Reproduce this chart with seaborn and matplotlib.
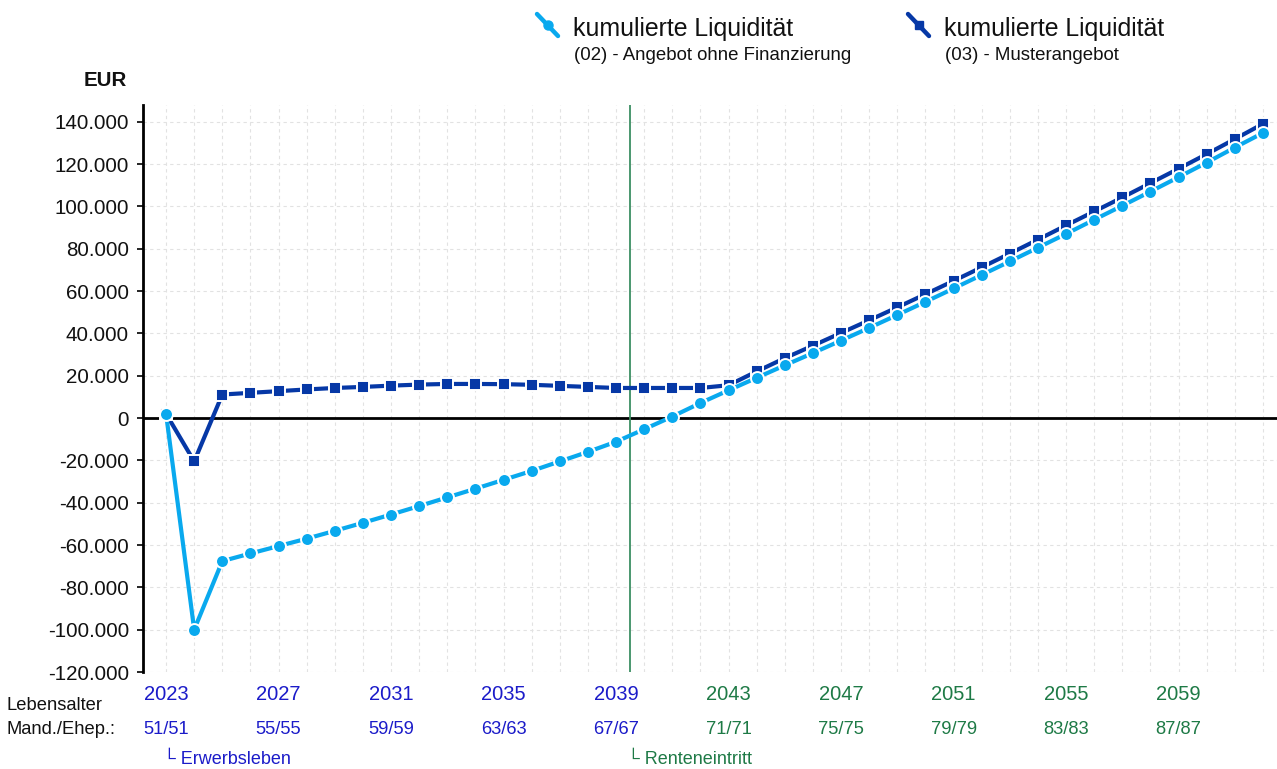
import matplotlib
matplotlib.use("Agg")
import matplotlib.pyplot as plt
import matplotlib.transforms as mtransforms
from matplotlib.lines import Line2D
import seaborn as sns
import pandas as pd

# ---------------- data ----------------
years = list(range(2023, 2063))
liq_02 = [2000, -100000, -67600, -64000, -60500, -57000, -53300, -49500, -45600, -41600,
          -37500, -33400, -29200, -25000, -20500, -16000, -11200, -5300, 700, 7100,
          13100, 19000, 24900, 30700, 36600, 42600, 48700, 54900, 61200, 67600,
          74000, 80500, 87000, 93700, 100300, 107000, 113800, 120700, 127800, 134700]
liq_03 = [2000, -20500, 11100, 11900, 12700, 13500, 14200, 14700, 15300, 15800,
          16100, 16100, 16000, 15700, 15200, 14700, 14200, 14200, 14200, 14200,
          15500, 22000, 28300, 34200, 40200, 46200, 52300, 58500, 64800, 71200,
          77700, 84300, 91000, 97600, 104200, 111000, 117800, 124700, 131800, 139000]
tick_years = [2023, 2027, 2031, 2035, 2039, 2043, 2047, 2051, 2055, 2059]
tick_ages = ["51/51", "55/55", "59/59", "63/63", "67/67", "71/71", "75/75", "79/79", "83/83", "87/87"]
y_ticks = [-120000, -100000, -80000, -60000, -40000, -20000, 0, 20000, 40000, 60000,
           80000, 100000, 120000, 140000]
retirement_x = 2039.5
series_title = "kumulierte Liquidität"
series_02 = "(02) - Angebot ohne Finanzierung"
series_03 = "(03) - Musterangebot"

df = pd.DataFrame({"Jahr": years, "L02": liq_02, "L03": liq_03})

LIGHT = "#09A9EE"
DARK = "#0638A6"
BLUE_TXT = "#1B1BC9"
GREEN_TXT = "#1E7A46"
GREEN_LINE = "#3C8F63"

sns.set_theme(style="white")
plt.rcParams["font.family"] = ["Liberation Sans", "DejaVu Sans"]

W, H = 1277, 769
fig = plt.figure(figsize=(W / 100, H / 100), dpi=100)
ax = fig.add_axes([143 / W, 1 - 672 / H, 1 - 143 / W, (672 - 105) / H])

# grid
ax.set_xticks(years, minor=True)
ax.set_yticks(y_ticks)
ax.grid(True, which="both", color="#e2e2e2", linestyle=(0, (3, 3)), linewidth=0.8)
ax.set_axisbelow(True)

ax.axhline(0, color="black", lw=2, zorder=2)
ax.axvline(retirement_x, color=GREEN_LINE, lw=1.3, zorder=2)

sns.lineplot(data=df, x="Jahr", y="L03", ax=ax, color=DARK, lw=3.0, marker="s",
             markersize=8.2, markeredgecolor="white", markeredgewidth=1.4, zorder=3)
sns.lineplot(data=df, x="Jahr", y="L02", ax=ax, color=LIGHT, lw=3.0, marker="o",
             markersize=9.3, markeredgecolor="white", markeredgewidth=1.4, zorder=4)

ax.set_xlim(2022.18, 2062.5)
ax.set_ylim(-120000, 147900)
ax.set_xlabel("")
ax.set_ylabel("")

ax.set_yticklabels([f"{v:,}".replace(",", ".") for v in y_ticks], fontsize=14.8, color="#111111")
ax.tick_params(axis="y", which="major", left=True, length=4, width=1.2, color="black", pad=6)
ax.set_xticks(tick_years)
ax.set_xticklabels([str(y) for y in tick_years], fontsize=14.5)
ax.tick_params(axis="x", which="both", bottom=False, length=0, pad=9)
for lab, yv in zip(ax.get_xticklabels(), tick_years):
    lab.set_color(BLUE_TXT if yv < retirement_x else GREEN_TXT)

for sp in ["top", "right", "bottom"]:
    ax.spines[sp].set_visible(False)
ax.spines["left"].set_color("black")
ax.spines["left"].set_linewidth(2)

# age row
trans = mtransforms.blended_transform_factory(ax.transData, ax.transAxes)
age_y = (672 - 729) / (672 - 105)
for yv, a in zip(tick_years, tick_ages):
    ax.text(yv, age_y, a, transform=trans, ha="center", va="center", fontsize=13.2,
            color=BLUE_TXT if yv < retirement_x else GREEN_TXT)

mark_y = (672 - 759) / (672 - 105)
ax.text(tick_years[0] - 0.1, mark_y, "└ Erwerbsleben", transform=trans, ha="left", va="center",
        fontsize=13, color=BLUE_TXT, family=["Liberation Sans", "DejaVu Sans"])
ax.text(retirement_x - 0.1, mark_y, "└ Renteneintritt", transform=trans, ha="left", va="center",
        fontsize=13, color=GREEN_TXT, family=["Liberation Sans", "DejaVu Sans"])

fig.text(7 / W, 1 - 706 / H, "Lebensalter", ha="left", va="center", fontsize=13.2, color="#111111")
fig.text(7 / W, 1 - 729 / H, "Mand./Ehep.:", ha="left", va="center", fontsize=13.2, color="#111111")
fig.text(127 / W, 1 - 80 / H, "EUR", ha="right", va="center", fontsize=14.8, fontweight="bold",
         color="#111111")

# legend
def legend_entry(x0, color, marker, ms, sub):
    fig.add_artist(Line2D([x0 / W, (x0 + 21) / W], [1 - 14 / H, 1 - 36 / H],
                          transform=fig.transFigure, color=color, lw=3.2))
    fig.add_artist(Line2D([(x0 + 10.5) / W], [1 - 25 / H], transform=fig.transFigure,
                          color=color, marker=marker, markersize=ms, lw=0))
    fig.text((x0 + 36) / W, 1 - 29 / H, series_title, ha="left", va="center", fontsize=17.9,
             color="#111111")
    fig.text((x0 + 37) / W, 1 - 56 / H, sub, ha="left", va="center", fontsize=13.4, color="#111111")

legend_entry(537, LIGHT, "o", 6.5, series_02)
legend_entry(908, DARK, "s", 6, series_03)

fig.savefig("out.png", dpi=100, facecolor="white")
